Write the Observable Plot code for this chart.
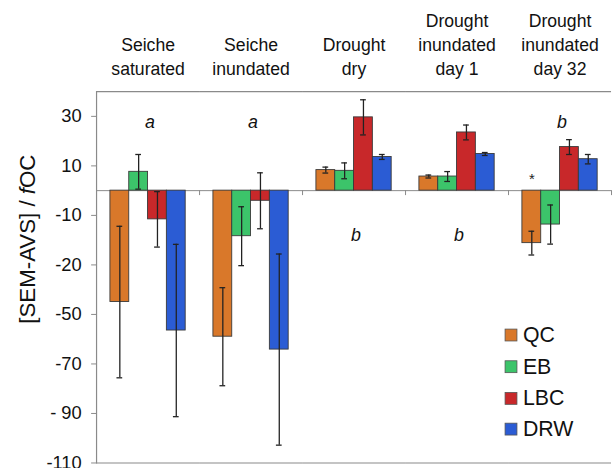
<!DOCTYPE html>
<html>
<head>
<meta charset="utf-8">
<script src="https://cdn.jsdelivr.net/npm/d3@7"></script>
<script src="https://cdn.jsdelivr.net/npm/@observablehq/plot@0.6"></script>
<style>
  html, body { margin: 0; padding: 0; background: #fff; }
  #chart { width: 614px; height: 473px; overflow: hidden; position: relative; }
</style>
</head>
<body>
<div id="chart"></div>
<script>
// ---- data ----
const groups = ["Seiche\nsaturated", "Seiche\ninundated", "Drought\ndry", "Drought\ninundated\nday 1", "Drought\ninundated\nday 32"];
const series = ["QC", "EB", "LBC", "DRW"];
const colors = ["#D9782A", "#3CC46A", "#C8282A", "#2B5CD4"];

const QC  = [-45.0, -59.0, 8.3, 5.7, -21.2];
const EB  = [7.6, -18.4, 8.0, 5.7, -13.7];
const LBC = [-11.6, -4.1, 29.6, 23.5, 17.6];
const DRW = [-56.5, -64.2, 13.6, 14.8, 12.7];

const QC_err  = [30.6, 19.8, 1.2, 0.6, 4.8];
const EB_err  = [7.0, 11.9, 3.2, 2.0, 7.9];
const LBC_err = [11.2, 11.3, 7.1, 3.0, 3.0];
const DRW_err = [34.8, 38.6, 1.0, 0.6, 1.9];

const letters = ["a", "a", "b", "b", "b"];
const letterY = [27.8, 27.8, -18, -18, 27.8];

const starGroup = groups[4];
const starSeries = "QC";
const starY = 4.5;

const yTicks = [30, 10, -10, -30, -50, -70, -90, -110];
const yTickLabels = ["30", "10", "-10", "-20", "-50", "-70", "- 90", "-110"];
const yDomain = [-110, 40];

// ---- build table ----
const valuesBySeries = {QC, EB, LBC, DRW};
const errBySeries = {QC: QC_err, EB: EB_err, LBC: LBC_err, DRW: DRW_err};
const data = [];
groups.forEach((g, gi) => {
  series.forEach(s => {
    data.push({group: g, series: s, value: valuesBySeries[s][gi], err: errBySeries[s][gi]});
  });
});
const letterData = groups.map((g, i) => ({group: g, text: letters[i], y: letterY[i]}));
const tickLabelMap = new Map(yTicks.map((t, i) => [t, yTickLabels[i]]));

const W = 620, H = 473, mT = 92, mB = 6, mL = 97, mR = 3;
const innerH = H - mT - mB;
const y0px = innerH * (yDomain[1] - 0) / (yDomain[1] - yDomain[0]);

const font = "'Liberation Sans', Arial, Helvetica, sans-serif";
const gray = "#8a8a8a";

const plot = Plot.plot({
  width: W,
  height: H,
  marginTop: mT,
  marginBottom: mB,
  marginLeft: mL,
  marginRight: mR,
  style: {fontFamily: font, fontSize: "18px", color: "#111", background: "#fff"},
  fx: {domain: groups, padding: 0, label: null},
  x: {domain: series, paddingInner: 0, paddingOuter: 0.7, axis: null},
  y: {domain: yDomain, label: null},
  color: {domain: series, range: colors},
  marks: [
    Plot.axisFx({anchor: "top", tickSize: 0, tickPadding: 17, lineAnchor: "bottom", lineHeight: 1.36, fontSize: 17.8, label: null}),
    Plot.axisY({ticks: yTicks, tickFormat: d => tickLabelMap.get(d), tickSize: 5, tickPadding: 10, fontSize: 18.5, stroke: gray, label: null}),
    Plot.ruleY([0], {stroke: gray, strokeWidth: 1}),
    Plot.frame({anchor: "right", insetTop: y0px, insetBottom: innerH - y0px - 4, stroke: gray}),
    Plot.barY(data, {fx: "group", x: "series", y: "value", fill: "series", stroke: "#3a3a3a", strokeWidth: 0.9}),
    Plot.ruleX(data, {fx: "group", x: "series", y1: d => d.value - d.err, y2: d => d.value + d.err, stroke: "#222", strokeWidth: 1.3}),
    Plot.tickY(data, {fx: "group", x: "series", y: d => d.value - d.err, stroke: "#222", strokeWidth: 1.3, insetLeft: 6.6, insetRight: 6.6}),
    Plot.tickY(data, {fx: "group", x: "series", y: d => d.value + d.err, stroke: "#222", strokeWidth: 1.3, insetLeft: 6.6, insetRight: 6.6}),
    Plot.text(letterData, {fx: "group", y: "y", text: "text", fontSize: 18, fontStyle: "italic", fill: "#111", dx: 2}),
    Plot.text([{group: starGroup, series: starSeries, y: starY}], {fx: "group", x: "series", y: "y", text: () => "*", fontSize: 15, fill: "#222"}),
    Plot.ruleY([yDomain[1], yDomain[0]], {stroke: gray, strokeWidth: 1.2}),
    Plot.frame({anchor: "left", facetAnchor: "left", stroke: gray, strokeWidth: 1.2})
  ]
});

document.getElementById("chart").appendChild(plot);

// ---- y-axis title with italic f ----
const svg = d3.select(plot);
const yl = svg.append("text")
  .attr("transform", "translate(27,241.5) rotate(-90)")
  .attr("text-anchor", "middle")
  .attr("dominant-baseline", "central")
  .attr("font-family", font)
  .attr("font-size", 22.5)
  .attr("fill", "#111");
yl.append("tspan").text("[SEM-AVS] / ");
yl.append("tspan").style("font-style", "italic").text("f");
yl.append("tspan").text("OC");

// ---- legend ----
const legend = svg.append("g").attr("text-anchor", "start");
const legendRowY = [338.3, 370.3, 402.3, 433.3];
series.forEach((s, i) => {
  const row = legend.append("g").attr("transform", `translate(510,${legendRowY[i]})`);
  row.append("rect").attr("x", 0).attr("y", -6).attr("width", 12).attr("height", 12)
    .attr("fill", colors[i]).attr("stroke", "#555").attr("stroke-width", 0.8);
  row.append("text").attr("x", 18).attr("y", 0).attr("dominant-baseline", "central")
    .attr("text-anchor", "start")
    .attr("font-family", font).attr("font-size", 21.5).attr("fill", "#111").text(s);
});
</script>
</body>
</html>
